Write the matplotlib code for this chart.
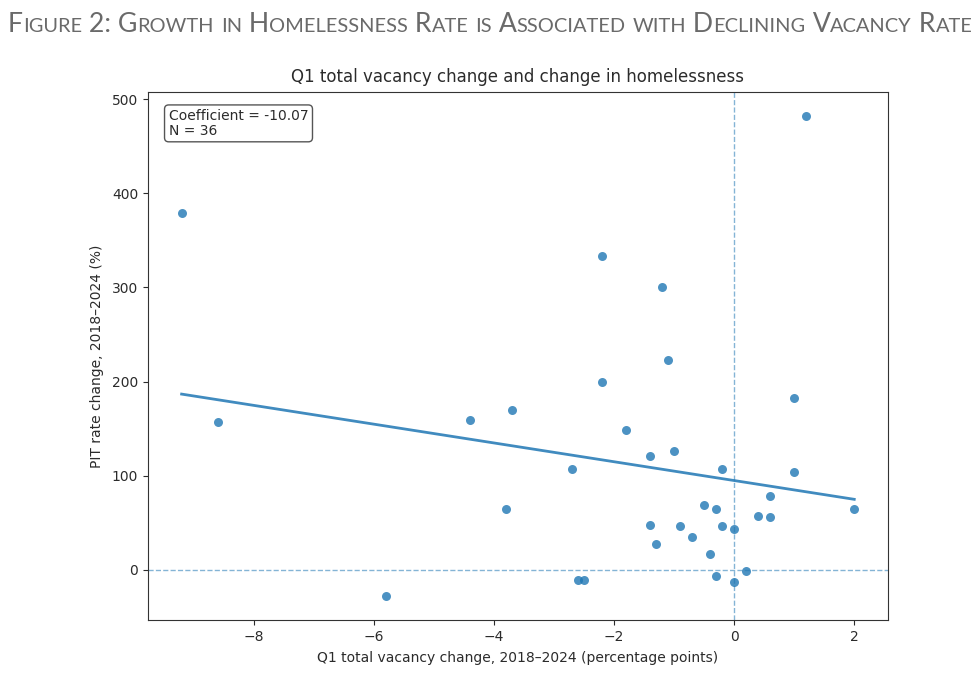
import numpy as np
import matplotlib
matplotlib.use("Agg")
import matplotlib.pyplot as plt

# data
vacancy_change = [
    -9.2, -8.6, -5.8, -4.4, -3.8, -3.7, -2.7, -2.6, -2.5, -2.2,
    -2.2, -1.8, -1.4, -1.4, -1.3, -1.2, -1.1, -1.0, -0.9, -0.7,
    -0.5, -0.4, -0.3, -0.3, -0.2, -0.2, 0.0, 0.0, 0.2, 0.4,
    0.6, 0.6, 1.0, 1.0, 1.2, 2.0,
]
pit_change = [
    379, 157, -28, 159, 65, 170, 107, -11, -11, 333,
    200, 149, 121, 47, 27, 300, 223, 126, 46, 35,
    69, 17, 65, -7, 107, 46, 43, -13, -1, 57,
    78, 56, 183, 104, 482, 65,
]
coef_label = "Coefficient = -10.07"
n_label = "N = 36"

fig_title = "Figure 2: Growth in Homelessness Rate is Associated with Declining Vacancy Rate"
ax_title = "Q1 total vacancy change and change in homelessness"
x_label = "Q1 total vacancy change, 2018\u20132024 (percentage points)"
y_label = "PIT rate change, 2018\u20132024 (%)"

blue = "#1f77b4"
txt = "#2b2b2b"

fig = plt.figure(figsize=(9.8, 6.78), dpi=100)
ax = fig.add_axes([0.151, 0.0855, 0.755, 0.7785])

x = np.array(vacancy_change)
y = np.array(pit_change)
ax.scatter(x, y, s=42, color=blue, alpha=0.8, linewidths=0, zorder=3)

slope, intercept = np.polyfit(x, y, 1)
xs = np.linspace(x.min(), x.max(), 50)
ax.plot(xs, slope * xs + intercept, color=blue, lw=2, alpha=0.85, zorder=2)

ax.axhline(0, color=blue, ls="--", lw=1, alpha=0.55, zorder=1)
ax.axvline(0, color=blue, ls="--", lw=1, alpha=0.55, zorder=1)

ax.text(0.028, 0.968, coef_label + "\n" + n_label, transform=ax.transAxes,
        va="top", ha="left", fontsize=10, color=txt, linespacing=1.05,
        bbox=dict(boxstyle="round,pad=0.3", fc="white", ec="#555555", lw=1))

ax.set_title(ax_title, fontsize=12, color=txt, pad=7)
ax.set_xlabel(x_label, fontsize=10, color=txt, labelpad=5)
ax.set_ylabel(y_label, fontsize=10, color=txt, labelpad=6)
ax.tick_params(labelsize=10, colors=txt)
for s in ax.spines.values():
    s.set_color("#333333")

# small caps figure heading, built from chained pieces
runs = []
for ch in fig_title:
    big = not ch.islower()
    if runs and runs[-1][1] == big:
        runs[-1][0] += ch
    else:
        runs.append([ch, big])

renderer = fig.canvas.get_renderer()
xpos = 8
for piece, big in runs:
    t = fig.text(xpos / 980, 1 - 32 / 678, piece.upper(), fontsize=19.2 if big else 14.4,
                 family="Lato", color="#6a6a6a", va="baseline", ha="left")
    xpos += t.get_window_extent(renderer).width

fig.savefig("out.png", dpi=100)
